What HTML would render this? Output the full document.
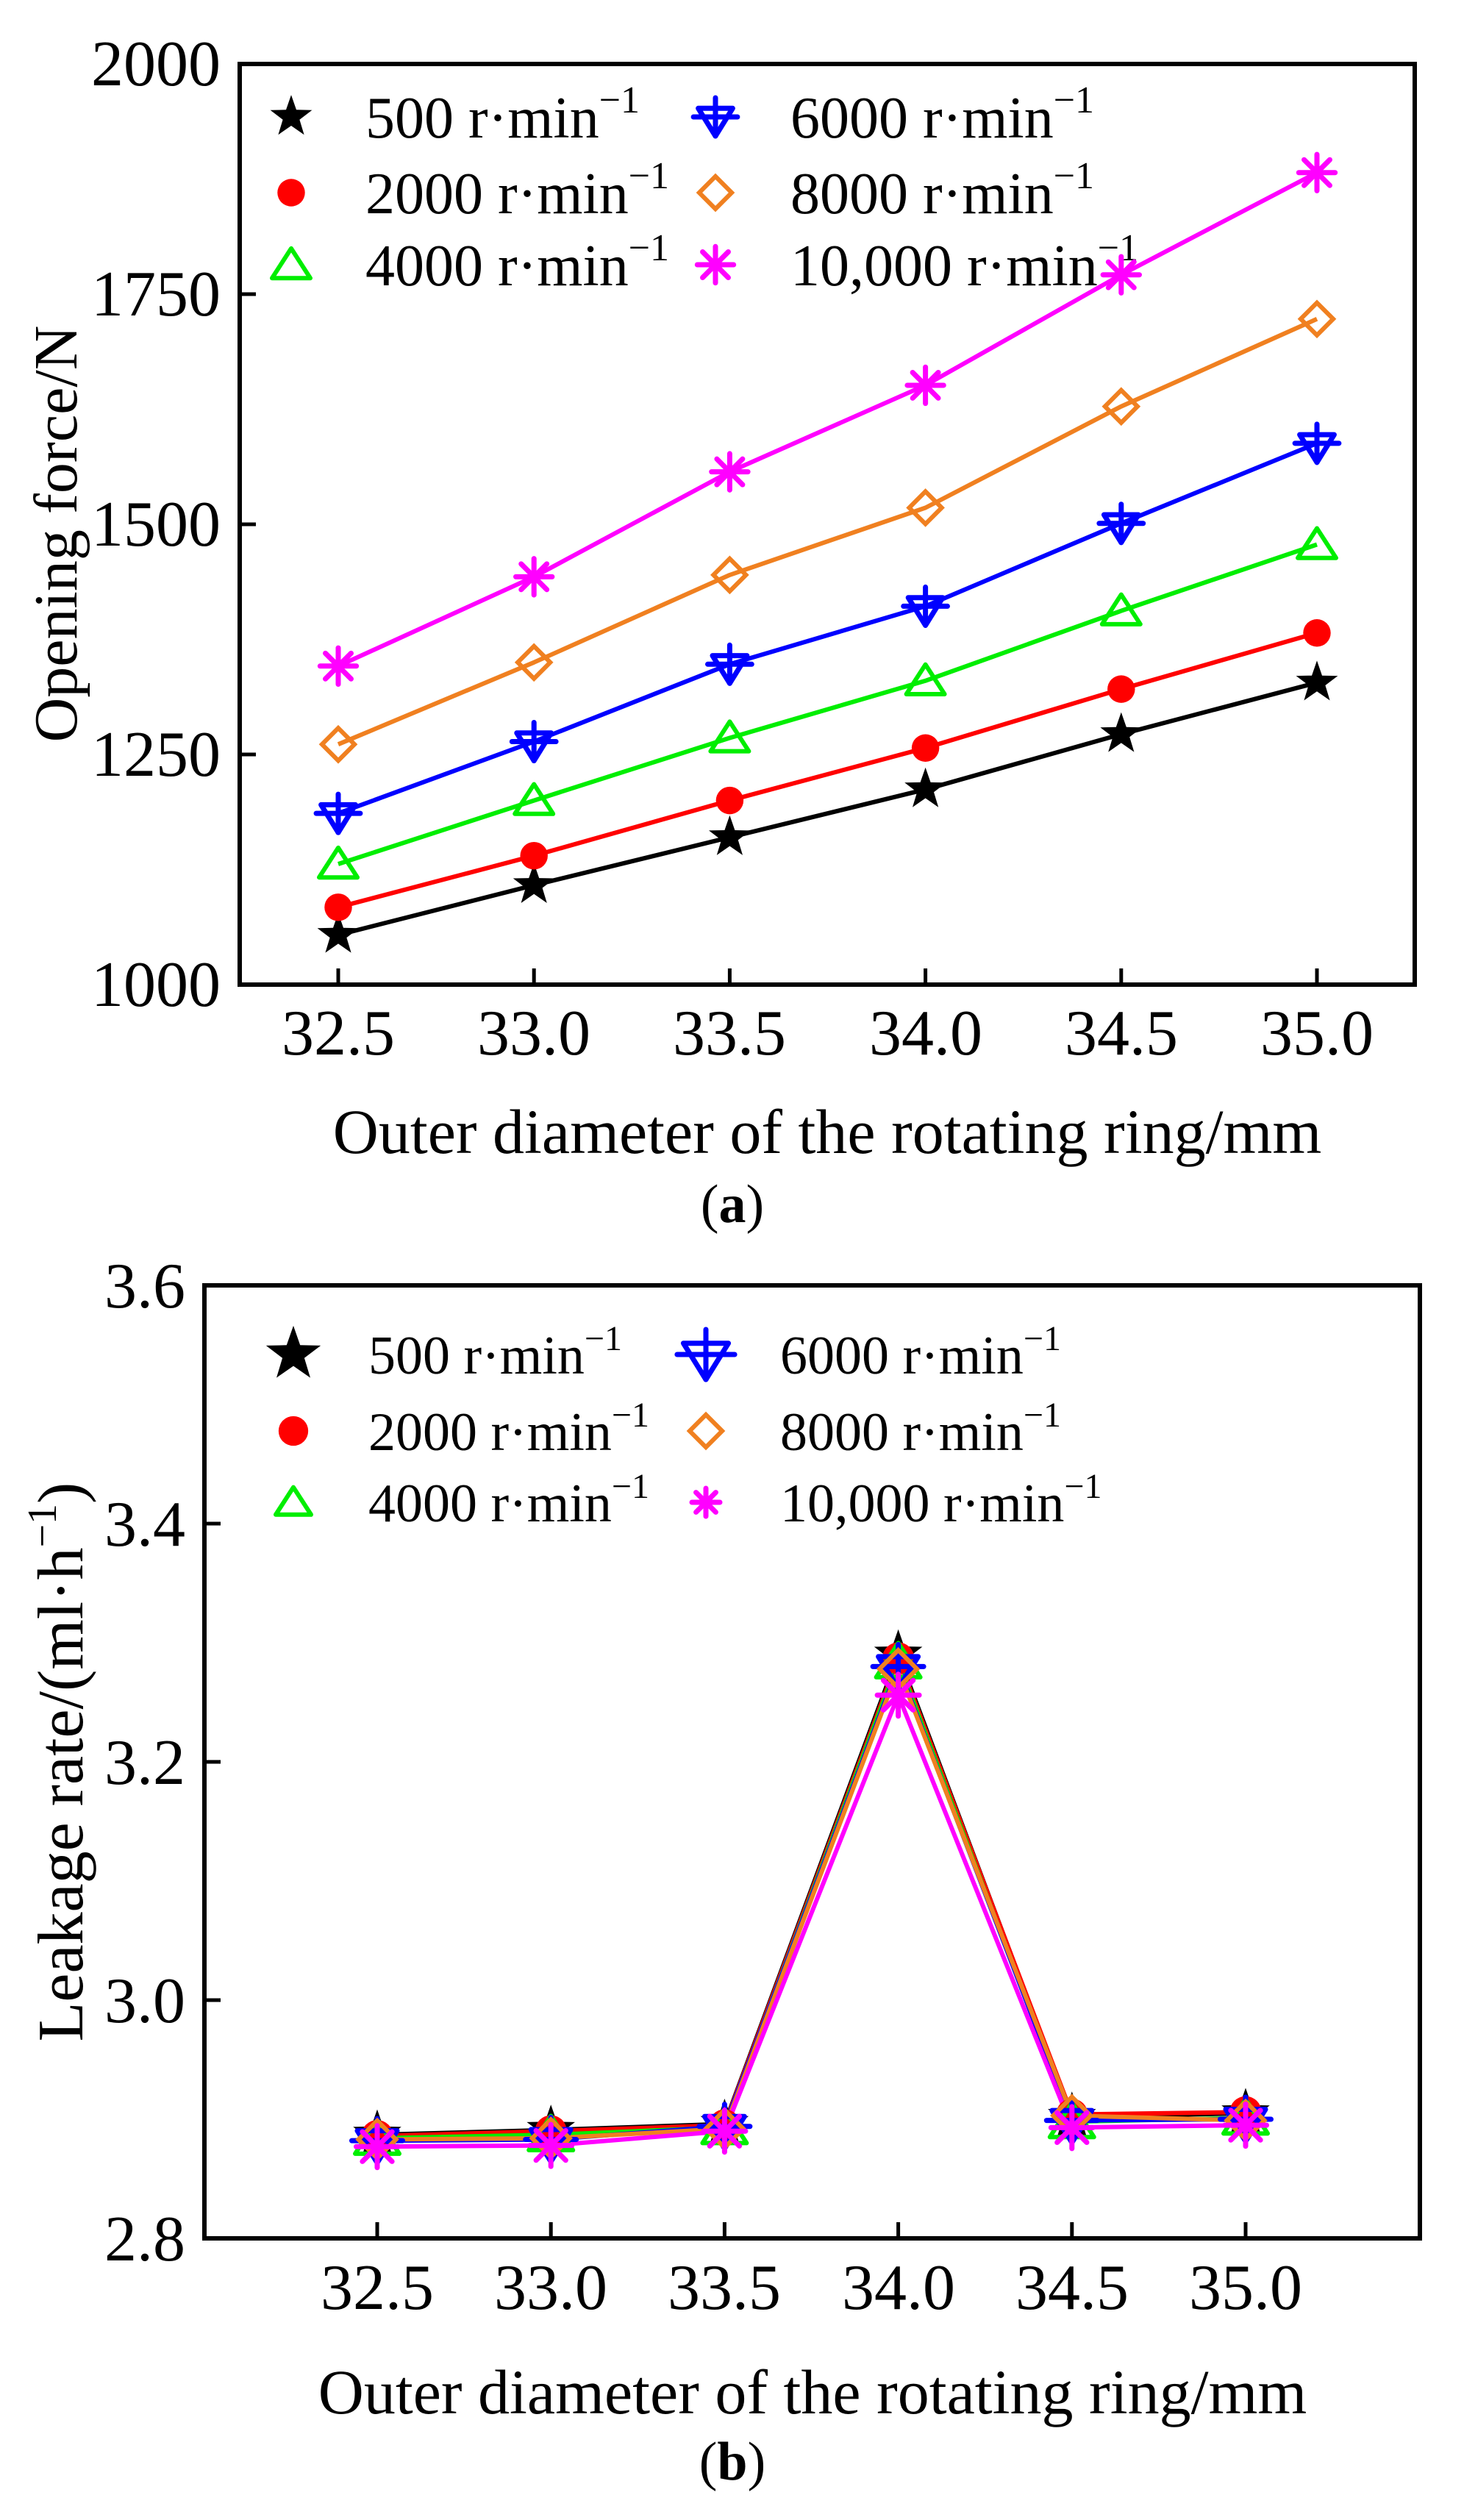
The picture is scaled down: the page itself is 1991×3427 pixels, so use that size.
<!DOCTYPE html>
<html><head><meta charset="utf-8"><style>
html,body{margin:0;padding:0;background:#fff;}
svg{display:block;}
text{font-family:"Liberation Serif","DejaVu Serif",serif;fill:#000;}
</style></head><body>
<svg id="s" width="1991" height="3427" viewBox="0 0 1991 3427" xmlns="http://www.w3.org/2000/svg">
<rect width="1991" height="3427" fill="#fff"/>
<rect x="326" y="87" width="1598" height="1252" fill="none" stroke="#000" stroke-width="6"/>
<g font-size="88" text-anchor="end">
<text x="300" y="116">2000</text>
<text x="300" y="429">1750</text>
<text x="300" y="742">1500</text>
<text x="300" y="1055">1250</text>
<text x="300" y="1368">1000</text>
</g>
<g font-size="88" text-anchor="middle">
<text x="460" y="1434">32.5</text>
<text x="726" y="1434">33.0</text>
<text x="992" y="1434">33.5</text>
<text x="1259" y="1434">34.0</text>
<text x="1525" y="1434">34.5</text>
<text x="1791" y="1434">35.0</text>
</g>
<text x="1125" y="1568" font-size="86" text-anchor="middle">Outer diameter of the rotating ring/mm</text>
<text x="996" y="1662" font-size="74" text-anchor="middle">(<tspan font-weight="bold">a</tspan>)</text>
<text transform="translate(104,726) rotate(-90)" font-size="84" text-anchor="middle">Opening force/N</text>
<g font-size="80">
<text x="497" y="187">500 r·min<tspan font-size="52" dy="-34">−1</tspan></text>
<text x="497" y="290">2000 r·min<tspan font-size="52" dy="-34">−1</tspan></text>
<text x="497" y="388">4000 r·min<tspan font-size="52" dy="-34">−1</tspan></text>
<text x="1075" y="187">6000 r·min<tspan font-size="52" dy="-34">−1</tspan></text>
<text x="1075" y="290">8000 r·min<tspan font-size="52" dy="-34">−1</tspan></text>
<text x="1075" y="388">10,000 r·min<tspan font-size="52" dy="-34">−1</tspan></text>
</g>
<rect x="278" y="1748" width="1653" height="1296" fill="none" stroke="#000" stroke-width="6"/>
<g font-size="88" text-anchor="end">
<text x="252" y="1778">3.6</text>
<text x="252" y="2102">3.4</text>
<text x="252" y="2426">3.2</text>
<text x="252" y="2750">3.0</text>
<text x="252" y="3074">2.8</text>
</g>
<g font-size="88" text-anchor="middle">
<text x="513" y="3140">32.5</text>
<text x="749" y="3140">33.0</text>
<text x="985" y="3140">33.5</text>
<text x="1222" y="3140">34.0</text>
<text x="1458" y="3140">34.5</text>
<text x="1694" y="3140">35.0</text>
</g>
<text x="1105" y="3282" font-size="86" text-anchor="middle">Outer diameter of the rotating ring/mm</text>
<text x="996" y="3372" font-size="74" text-anchor="middle">(<tspan font-weight="bold">b</tspan>)</text>
<text transform="translate(112,2396) rotate(-90)" font-size="88" text-anchor="middle">Leakage rate/(ml·h<tspan font-size="56" dy="-36">−1</tspan><tspan dy="36">)</tspan></text>
<g font-size="74">
<text x="501" y="1868">500 r·min<tspan font-size="48" dy="-32">−1</tspan></text>
<text x="501" y="1972">2000 r·min<tspan font-size="48" dy="-32">−1</tspan></text>
<text x="501" y="2069">4000 r·min<tspan font-size="48" dy="-32">−1</tspan></text>
<text x="1061" y="1868">6000 r·min<tspan font-size="48" dy="-32">−1</tspan></text>
<text x="1061" y="1972">8000 r·min<tspan font-size="48" dy="-32">−1</tspan></text>
<text x="1061" y="2069">10,000 r·min<tspan font-size="48" dy="-32">−1</tspan></text>
</g>
<g id="dyn"></g>
</svg>
<script>
var g=document.getElementById("dyn"),h="";
var C=["#000","#ff0000","#00ee00","#0000ff","#f08020","#ff00ff"];
function star(x,y,r,c){var p=[];for(var i=0;i<10;i++){var a=-Math.PI/2+i*Math.PI/5,rr=i%2?r*0.4:r;p.push((x+rr*Math.cos(a)).toFixed(1)+","+(y+rr*Math.sin(a)).toFixed(1));}return '<polygon points="'+p.join(" ")+'" fill="'+c+'"/>';}
function mk(t,x,y,s){var c=C[t];
 if(t==0)return star(x,y,s*1.15,c);
 if(t==1)return '<circle cx="'+x+'" cy="'+y+'" r="'+(s*0.72)+'" fill="'+c+'"/>';
 if(t==2)return '<polygon points="'+x+','+(y-s*0.85)+' '+(x+s)+','+(y+s*0.7)+' '+(x-s)+','+(y+s*0.7)+'" fill="none" stroke="'+c+'" stroke-width="6" stroke-linejoin="round"/>';
 if(t==3)return '<polygon points="'+(x-s*0.9)+','+(y-s*0.45)+' '+(x+s*0.9)+','+(y-s*0.45)+' '+x+','+(y+s*1.0)+'" fill="none" stroke="'+c+'" stroke-width="7" stroke-linejoin="round"/><line x1="'+(x-s*1.15)+'" y1="'+y+'" x2="'+(x+s*1.15)+'" y2="'+y+'" stroke="'+c+'" stroke-width="7" stroke-linecap="round"/><line x1="'+x+'" y1="'+(y-s)+'" x2="'+x+'" y2="'+(y+s)+'" stroke="'+c+'" stroke-width="7" stroke-linecap="round"/>';
 if(t==4)return '<polygon points="'+x+','+(y-s*0.85)+' '+(x+s*0.85)+','+y+' '+x+','+(y+s*0.85)+' '+(x-s*0.85)+','+y+'" fill="none" stroke="'+c+'" stroke-width="6"/>';
 var o="",r=s*0.95;for(var i=0;i<4;i++){var a=i*Math.PI/4;o+='<line x1="'+(x-r*Math.cos(a))+'" y1="'+(y-r*Math.sin(a))+'" x2="'+(x+r*Math.cos(a))+'" y2="'+(y+r*Math.sin(a))+'" stroke="'+c+'" stroke-width="7" stroke-linecap="round"/>';}return o;}
function chart(X,Y,data,s,ticks){
 for(var i=0;i<6;i++){h+='<line x1="'+X(i)+'" y1="'+ticks.b+'" x2="'+X(i)+'" y2="'+(ticks.b-22)+'" stroke="#000" stroke-width="5"/>';}
 ticks.y.forEach(function(yy){h+='<line x1="'+ticks.l+'" y1="'+yy+'" x2="'+(ticks.l+22)+'" y2="'+yy+'" stroke="#000" stroke-width="5"/>';});
 data.forEach(function(d,k){var p=d.map(function(v,i){return X(i)+","+Y(v).toFixed(1);}).join(" ");h+='<polyline points="'+p+'" fill="none" stroke="'+C[k]+'" stroke-width="6" stroke-linejoin="round"/>';});
 data.forEach(function(d,k){d.forEach(function(v,i){h+=mk(k,X(i),Y(v),s);});});
}
var A=[[1054,1108,1160,1212,1272,1328],[1084,1140,1200,1257,1321,1382],[1131,1200,1268,1330,1406,1478],[1186,1264,1348,1411,1501,1588],[1261,1350,1445,1518,1628,1723],[1346,1443,1557,1651,1771,1882]];
chart(function(i){return 460+i*266.2;},function(v){return 1339-(v-1000)*1.252;},A,26,{b:1339,l:326,y:[400,713,1026]});
var B=[[2.887,2.891,2.896,3.29,2.902,2.905],[2.886,2.89,2.895,3.287,2.904,2.906],[2.884,2.887,2.893,3.284,2.898,2.901],[2.882,2.883,2.894,3.28,2.899,2.9],[2.883,2.884,2.892,3.278,2.903,2.899],[2.877,2.878,2.89,3.256,2.893,2.895]];
chart(function(i){return 513+i*236.2;},function(v){return 3044-(v-2.8)/0.2*324;},B,30,{b:3044,l:278,y:[2072,2396,2720]});
var la=[[396,159],[396,262],[396,360],[973,159],[973,262],[973,360]];
la.forEach(function(p,k){h+=mk(k,p[0],p[1],26);});
var lb=[[399,1842],[399,1946],[399,2043],[960,1842],[960,1946],[960,2043]];
var sb=[34,28,24,34,26,20];
lb.forEach(function(p,k){h+=mk(k,p[0],p[1],sb[k]);});
g.innerHTML=h;
</script>
</body></html>
